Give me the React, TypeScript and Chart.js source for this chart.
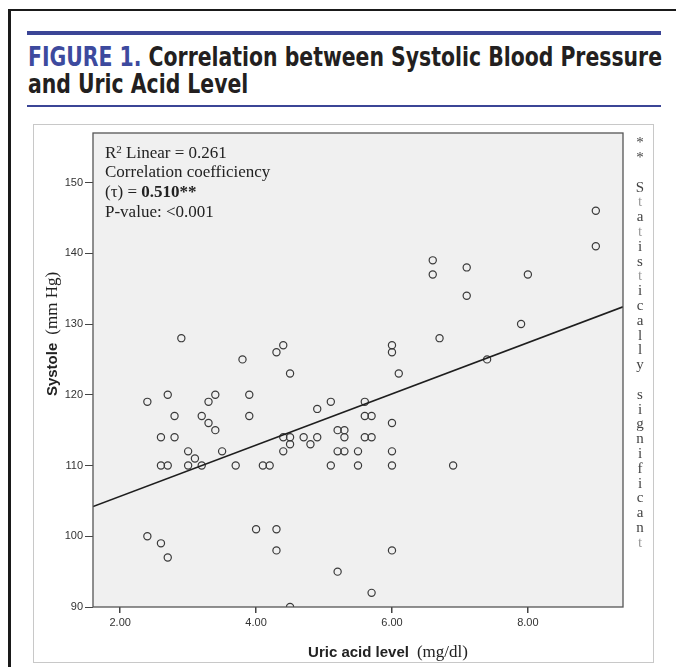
import React, { useEffect, useLayoutEffect, useRef } from "react";
import { Chart, registerables } from "chart.js";
Chart.register(...registerables);

// ---- data ----
const uricAcid = [
  9.0, 9.0, 8.0, 7.9, 7.4, 7.1, 7.1, 6.7, 6.6, 6.6, 6.9,
  6.0, 6.0, 6.1, 6.0, 6.0, 6.0, 6.0,
  4.4, 4.3, 4.5, 3.9, 3.9, 5.1, 4.9, 5.6, 5.6, 5.7,
  4.4, 4.5, 4.7, 4.9, 5.2, 5.3, 5.3, 5.6, 5.7,
  4.5, 4.8, 4.4, 5.2, 5.3, 5.5,
  4.1, 4.2, 5.1, 5.5,
  4.0, 4.3, 4.3, 5.2, 5.7, 4.5,
  2.9, 3.8, 2.4, 2.7, 3.4, 3.3, 2.8, 3.2, 3.3, 3.4, 2.6, 2.8, 3.0, 3.1, 3.5, 2.6, 2.7, 3.0, 3.2, 3.7,
  2.4, 2.6, 2.7,
];
const systole = [
  146, 141, 137, 130, 125, 138, 134, 128, 139, 137, 110,
  127, 126, 123, 116, 112, 110, 98,
  127, 126, 123, 120, 117, 119, 118, 119, 117, 117,
  114, 114, 114, 114, 115, 115, 114, 114, 114,
  113, 113, 112, 112, 112, 112,
  110, 110, 110, 110,
  101, 101, 98, 95, 92, 90,
  128, 125, 119, 120, 120, 119, 117, 117, 116, 115, 114, 114, 112, 111, 112, 110, 110, 110, 110, 110,
  100, 99, 97,
];
const xTicks = [2, 4, 6, 8];
const yTicks = [90, 100, 110, 120, 130, 140, 150];
const xMin = 1.6;
const xMax = 9.4;
const yMin = 90;
const yMax = 157;
const regIntercept = 98.4;
const regSlope = 3.62;

const titleBlue = "FIGURE 1.";
const titleLine1 = " Correlation between Systolic Blood Pressure";
const titleLine2 = "and Uric Acid Level";
const xTitleBold = "Uric acid level";
const xTitleUnit = "(mg/dl)";
const yTitleBold = "Systole";
const yTitleUnit = "(mm Hg)";
const sideLines = ["*", "*", "", "S", "t", "a", "t", "i", "s", "t", "i", "c", "a", "l", "l", "y", "", "s", "i", "g", "n", "i", "f", "i", "c", "a", "n", "t"];

const TITLE_WIDTH = 634;
const SANS = '"Liberation Sans", Arial, sans-serif';
const SERIF = '"Liberation Serif", "Times New Roman", serif';

const framePlugin = {
  id: "frame",
  beforeDraw(chart: any) {
    const { ctx, chartArea: a } = chart;
    ctx.save();
    ctx.fillStyle = "#f0f0f0";
    ctx.fillRect(a.left, a.top, a.right - a.left, a.bottom - a.top);
    ctx.restore();
  },
  afterDraw(chart: any) {
    const { ctx, chartArea: a } = chart;
    ctx.save();
    ctx.strokeStyle = "#555";
    ctx.lineWidth = 1.3;
    ctx.strokeRect(a.left, a.top, a.right - a.left, a.bottom - a.top);

    const bold = `bold 15px ${SANS}`;
    const serif = `17px ${SERIF}`;
    const gap = 8;
    ctx.fillStyle = "#222";
    ctx.textAlign = "left";
    ctx.textBaseline = "alphabetic";

    // x title
    ctx.font = bold;
    const w1 = ctx.measureText(xTitleBold).width;
    ctx.font = serif;
    const w2 = ctx.measureText(xTitleUnit).width;
    let x0 = 388 - (w1 + gap + w2) / 2;
    ctx.font = bold;
    ctx.fillText(xTitleBold, x0, 657);
    ctx.font = serif;
    ctx.fillText(xTitleUnit, x0 + w1 + gap, 657);

    // y title
    ctx.translate(57, 334);
    ctx.rotate(-Math.PI / 2);
    ctx.font = bold;
    const v1 = ctx.measureText(yTitleBold).width;
    ctx.font = serif;
    const v2 = ctx.measureText(yTitleUnit).width;
    x0 = -(v1 + gap + v2) / 2;
    ctx.font = bold;
    ctx.fillText(yTitleBold, x0, 0);
    ctx.font = serif;
    ctx.fillText(yTitleUnit, x0 + v1 + gap, 0);
    ctx.restore();
  },
};

export default function App() {
  const canvasRef = useRef<HTMLCanvasElement>(null);
  const l1 = useRef<HTMLSpanElement>(null);
  const l2 = useRef<HTMLSpanElement>(null);

  useLayoutEffect(() => {
    document.body.style.margin = "0";
    const a = l1.current;
    const b = l2.current;
    if (a && b) {
      a.style.transform = "none";
      b.style.transform = "none";
      const w = a.getBoundingClientRect().width;
      if (w > 0) {
        const s = TITLE_WIDTH / w;
        a.style.transform = `scaleX(${s})`;
        b.style.transform = `scaleX(${s})`;
      }
    }
  }, []);

  useEffect(() => {
    if (!canvasRef.current) return;
    const points = uricAcid.map((x, i) => ({ x, y: systole[i] }));
    const regression = [
      { x: xMin, y: regIntercept + regSlope * xMin },
      { x: xMax, y: regIntercept + regSlope * xMax },
    ];
    const chart = new Chart(canvasRef.current, {
      type: "scatter",
      data: {
        datasets: [
          {
            type: "scatter",
            data: points,
            pointStyle: "circle",
            pointRadius: 3.6,
            pointBorderWidth: 1.2,
            borderColor: "#3a3a3a",
            backgroundColor: "rgba(0,0,0,0)",
            clip: 0,
            order: 2,
          } as any,
          {
            type: "line",
            data: regression,
            borderColor: "#1e1e1e",
            borderWidth: 1.6,
            pointRadius: 0,
            fill: false,
            clip: 0,
            order: 1,
          } as any,
        ],
      },
      options: {
        animation: false,
        responsive: false,
        devicePixelRatio: 1,
        layout: { padding: { left: 0, top: 133, right: 53, bottom: 0 } },
        plugins: { legend: { display: false }, tooltip: { enabled: false } },
        scales: {
          x: {
            type: "linear",
            min: xMin,
            max: xMax,
            afterBuildTicks: (s: any) => {
              s.ticks = xTicks.map((v) => ({ value: v }));
            },
            afterFit: (s: any) => {
              s.height = 60;
            },
            ticks: {
              callback: (v: any) => Number(v).toFixed(2),
              font: { family: SANS, size: 11 },
              color: "#333",
              padding: 3,
              maxRotation: 0,
              autoSkip: false,
            },
            grid: { drawOnChartArea: false, drawTicks: true, tickLength: 6, color: "#444", lineWidth: 1.5 },
            border: { display: false },
          },
          y: {
            type: "linear",
            min: yMin,
            max: yMax,
            afterBuildTicks: (s: any) => {
              s.ticks = yTicks.map((v) => ({ value: v }));
            },
            afterFit: (s: any) => {
              s.width = 93;
            },
            ticks: {
              font: { family: SANS, size: 11 },
              color: "#333",
              padding: 2,
              autoSkip: false,
            },
            grid: { drawOnChartArea: false, drawTicks: true, tickLength: 8, color: "#444", lineWidth: 1 },
            border: { display: false },
          },
        },
      } as any,
      plugins: [framePlugin],
    });
    return () => chart.destroy();
  }, []);

  const titleFont: React.CSSProperties = {
    fontFamily: '"DejaVu Sans Condensed", "DejaVu Sans", sans-serif',
    fontStretch: "condensed",
    fontWeight: "bold",
    fontSize: 27,
    lineHeight: "27px",
    color: "#231f20",
    whiteSpace: "nowrap",
    display: "inline-block",
    transformOrigin: "0 0",
  };

  return (
    <div style={{ position: "relative", width: 676, height: 667, overflow: "hidden", background: "#fff" }}>
      {/* outer frame */}
      <div style={{ position: "absolute", left: 8, top: 9, width: 668, height: 2, background: "#1a1a1a" }} />
      <div style={{ position: "absolute", left: 8, top: 9, width: 3, height: 658, background: "#1a1a1a" }} />
      {/* blue rules */}
      <div style={{ position: "absolute", left: 27, top: 31, width: 634, height: 4, background: "#3b4596" }} />
      <div style={{ position: "absolute", left: 27, top: 105, width: 634, height: 2, background: "#3b4596" }} />
      {/* header */}
      <div style={{ position: "absolute", left: 28, top: 43 }}>
        <span ref={l1} style={titleFont}>
          <span style={{ color: "#3d4a9e" }}>{titleBlue}</span>
          {titleLine1}
        </span>
      </div>
      <div style={{ position: "absolute", left: 28, top: 70 }}>
        <span ref={l2} style={titleFont}>{titleLine2}</span>
      </div>
      {/* panel */}
      <div style={{ position: "absolute", left: 33, top: 124, width: 619, height: 537, border: "1px solid #c8c8c8" }} />
      <canvas ref={canvasRef} width={676} height={667} style={{ position: "absolute", left: 0, top: 0, width: 676, height: 667 }} />
      {/* annotation */}
      <div
        style={{
          position: "absolute",
          left: 105,
          top: 142.6,
          fontFamily: SERIF,
          fontSize: 17,
          lineHeight: "19.8px",
          color: "#222",
          whiteSpace: "nowrap",
        }}
      >
        <div>
          R<span style={{ fontSize: 11, verticalAlign: "top", lineHeight: "11px", position: "relative", top: 1 }}>2</span> Linear = 0.261
        </div>
        <div>Correlation coefficiency</div>
        <div>
          (τ) = <b>0.510**</b>
        </div>
        <div>P-value: &lt;0.001</div>
      </div>
      {/* side note */}
      <div
        style={{
          position: "absolute",
          left: 632,
          top: 135.2,
          width: 16,
          textAlign: "center",
          fontFamily: SERIF,
          fontSize: 15,
          lineHeight: "14.8px",
          color: "#444",
        }}
      >
        {sideLines.map((c, i) => (
          <div key={i} style={{ height: 14.8, color: c === "t" ? "#9a9a9a" : "#444" }}>
            {c}
          </div>
        ))}
      </div>
    </div>
  );
}
